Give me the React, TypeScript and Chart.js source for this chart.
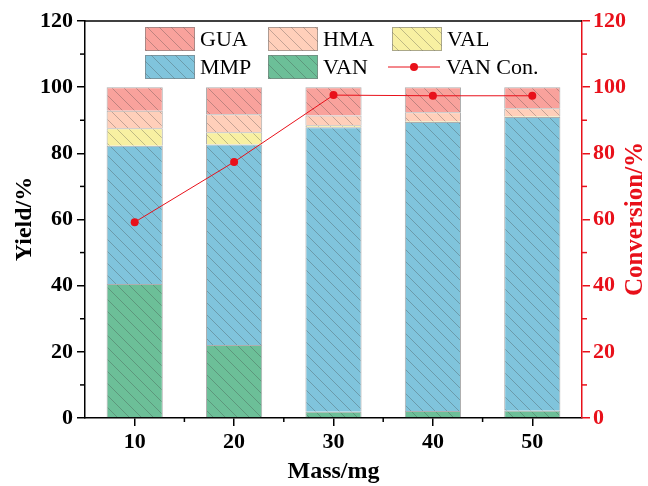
import React, { useEffect, useRef } from "react";
import { Chart, registerables } from "chart.js";

Chart.register(...registerables);

// Catalyst mass on the x axis
const masses = ["10", "20", "30", "40", "50"];
// Product yields (%) stacked bottom to top
const vanYield = [40.5, 22.1, 1.9, 2.1, 2.2];
const mmpYield = [41.8, 60.6, 86.0, 87.4, 88.8];
const valYield = [5.3, 3.7, 0.6, 0.2, 0.2];
const hmaYield = [5.3, 5.4, 2.9, 2.7, 2.4];
const guaYield = [7.1, 8.2, 8.6, 7.6, 6.4];
// VAN conversion (%) on the right axis
const vanConversion = [59.2, 77.4, 97.6, 97.4, 97.4];
// Axis ticks
const yTicks = [0, 20, 40, 60, 80, 100, 120];

const RED = "#e8101a";
const SERIF = "'Liberation Serif', 'Times New Roman', serif";

const COLORS = {
  GUA: "#f9a29c",
  HMA: "#ffcfba",
  VAL: "#f8f0a2",
  MMP: "#80c4dc",
  VAN: "#6cbf98",
};

function hatch(color: string): CanvasPattern | string {
  const n = 12;
  const c = document.createElement("canvas");
  c.width = n;
  c.height = n;
  const g = c.getContext("2d");
  if (!g) return color;
  g.fillStyle = color;
  g.fillRect(0, 0, n, n);
  g.strokeStyle = "rgba(60,60,60,0.3)";
  g.lineWidth = 1;
  g.beginPath();
  g.moveTo(0, 0);
  g.lineTo(n, n);
  g.moveTo(-n / 2, n / 2);
  g.lineTo(n / 2, n * 1.5);
  g.moveTo(n / 2, -n / 2);
  g.lineTo(n * 1.5, n / 2);
  g.stroke();
  return g.createPattern(c, "repeat") || color;
}

export default function App() {
  const ref = useRef<HTMLCanvasElement | null>(null);

  useEffect(() => {
    if (!ref.current) return;
    const pats: Record<string, CanvasPattern | string> = {};
    Object.entries(COLORS).forEach(([k, v]) => (pats[k] = hatch(v)));

    const barBase = {
      type: "bar" as const,
      yAxisID: "y",
      borderColor: "rgba(120,120,120,0.6)",
      borderWidth: 1,
      categoryPercentage: 1,
      barPercentage: 0.565,
      order: 1,
    };

    const overlay = {
      id: "overlay",
      afterDraw(chart: any) {
        const ctx: CanvasRenderingContext2D = chart.ctx;
        const area = chart.chartArea;
        const x = chart.scales.x;
        const y = chart.scales.y;
        const y1 = chart.scales.y1;
        ctx.save();
        // top frame line
        ctx.strokeStyle = "#000";
        ctx.lineWidth = 1.5;
        ctx.beginPath();
        ctx.moveTo(area.left, area.top);
        ctx.lineTo(area.right, area.top);
        ctx.stroke();

        // minor ticks
        ctx.lineWidth = 1.5;
        for (let v = 10; v < 120; v += 20) {
          const py = y.getPixelForValue(v);
          ctx.strokeStyle = "#000";
          ctx.beginPath();
          ctx.moveTo(area.left, py);
          ctx.lineTo(area.left - 5, py);
          ctx.stroke();
          const py1 = y1.getPixelForValue(v);
          ctx.strokeStyle = RED;
          ctx.beginPath();
          ctx.moveTo(area.right, py1);
          ctx.lineTo(area.right + 5, py1);
          ctx.stroke();
        }
        ctx.strokeStyle = "#000";
        for (let i = 0; i < masses.length - 1; i++) {
          const px = (x.getPixelForValue(i) + x.getPixelForValue(i + 1)) / 2;
          ctx.beginPath();
          ctx.moveTo(px, area.bottom);
          ctx.lineTo(px, area.bottom + 4);
          ctx.stroke();
        }

        // axis titles
        ctx.font = `bold 24px ${SERIF}`;
        ctx.textAlign = "center";
        ctx.textBaseline = "middle";
        ctx.fillStyle = "#000";
        ctx.fillText("Mass/mg", (area.left + area.right) / 2, 472);
        ctx.save();
        ctx.translate(25, 219);
        ctx.rotate(-Math.PI / 2);
        ctx.fillText("Yield/%", 0, 0);
        ctx.restore();
        ctx.save();
        ctx.font = `bold 25px ${SERIF}`;
        ctx.fillStyle = RED;
        ctx.translate(636, 219);
        ctx.rotate(-Math.PI / 2);
        ctx.fillText("Conversion/%", 0, 0);
        ctx.restore();

        // legend
        const cols = [145, 268, 392];
        const rows = [27, 55];
        const items: [string, number, number][] = [
          ["GUA", 0, 0],
          ["HMA", 1, 0],
          ["VAL", 2, 0],
          ["MMP", 0, 1],
          ["VAN", 1, 1],
        ];
        ctx.font = `22px ${SERIF}`;
        ctx.textAlign = "left";
        ctx.textBaseline = "middle";
        items.forEach(([name, c, r]) => {
          const bx = cols[c];
          const by = rows[r];
          ctx.fillStyle = pats[name] as any;
          ctx.fillRect(bx, by, 50, 24);
          ctx.strokeStyle = "rgba(120,120,120,0.6)";
          ctx.lineWidth = 1;
          ctx.strokeRect(bx + 0.5, by + 0.5, 49, 23);
          ctx.fillStyle = "#000";
          ctx.fillText(name, bx + 55, by + 13);
        });
        // line legend entry
        const ly = rows[1] + 12;
        ctx.strokeStyle = RED;
        ctx.lineWidth = 1;
        ctx.beginPath();
        ctx.moveTo(388, ly);
        ctx.lineTo(440, ly);
        ctx.stroke();
        ctx.fillStyle = RED;
        ctx.beginPath();
        ctx.arc(414, ly, 4, 0, Math.PI * 2);
        ctx.fill();
        ctx.fillStyle = "#000";
        ctx.fillText("VAN Con.", 446, ly + 1);
        ctx.restore();
      },
    };

    const tickFont = { family: SERIF, size: 22, weight: "bold" };

    const chart = new Chart(ref.current, {
      data: {
        labels: masses,
        datasets: [
          {
            type: "line",
            label: "VAN Con.",
            data: vanConversion,
            yAxisID: "y1",
            borderColor: RED,
            backgroundColor: RED,
            borderWidth: 1,
            pointRadius: 4,
            pointBackgroundColor: RED,
            pointBorderWidth: 0,
            order: 0,
          },
          { ...barBase, label: "VAN", data: vanYield, backgroundColor: pats.VAN },
          { ...barBase, label: "MMP", data: mmpYield, backgroundColor: pats.MMP },
          { ...barBase, label: "VAL", data: valYield, backgroundColor: pats.VAL },
          { ...barBase, label: "HMA", data: hmaYield, backgroundColor: pats.HMA },
          { ...barBase, label: "GUA", data: guaYield, backgroundColor: pats.GUA },
        ] as any,
      },
      options: {
        animation: false,
        responsive: false,
        layout: { padding: { top: 21, left: 0, right: 0, bottom: 0 } },
        plugins: { legend: { display: false }, tooltip: { enabled: false } },
        scales: {
          x: {
            stacked: true,
            offset: true,
            grid: {
              display: true,
              offset: false,
              drawOnChartArea: false,
              drawTicks: true,
              tickLength: 8,
              color: "#000",
              lineWidth: 1.5,
            },
            border: { display: true, color: "#000", width: 1.5 },
            ticks: { color: "#000", font: tickFont, padding: 3, maxRotation: 0 },
            afterFit: (s: any) => {
              s.height = 68;
            },
          },
          y: {
            stacked: true,
            position: "left",
            min: 0,
            max: 120,
            afterBuildTicks: (s: any) => {
              s.ticks = yTicks.map((v) => ({ value: v }));
            },
            grid: {
              display: true,
              drawOnChartArea: false,
              drawTicks: true,
              tickLength: 8,
              color: "#000",
              lineWidth: 1.5,
            },
            border: { display: true, color: "#000", width: 1.5 },
            ticks: { color: "#000", font: tickFont, padding: 4 },
            afterFit: (s: any) => {
              s.width = 85;
            },
          },
          y1: {
            position: "right",
            min: 0,
            max: 120,
            afterBuildTicks: (s: any) => {
              s.ticks = yTicks.map((v) => ({ value: v }));
            },
            grid: {
              display: true,
              drawOnChartArea: false,
              drawTicks: true,
              tickLength: 8,
              color: RED,
              lineWidth: 1.5,
            },
            border: { display: true, color: RED, width: 1.5 },
            ticks: { color: RED, font: tickFont, padding: 3 },
            afterFit: (s: any) => {
              s.width = 66;
            },
          },
        },
      } as any,
      plugins: [overlay],
    });
    return () => chart.destroy();
  }, []);

  return (
    <div style={{ position: "fixed", left: 0, top: 0, width: 648, height: 486, background: "#fff" }}>
      <canvas ref={ref} width={648} height={486} style={{ width: 648, height: 486 }} />
    </div>
  );
}
